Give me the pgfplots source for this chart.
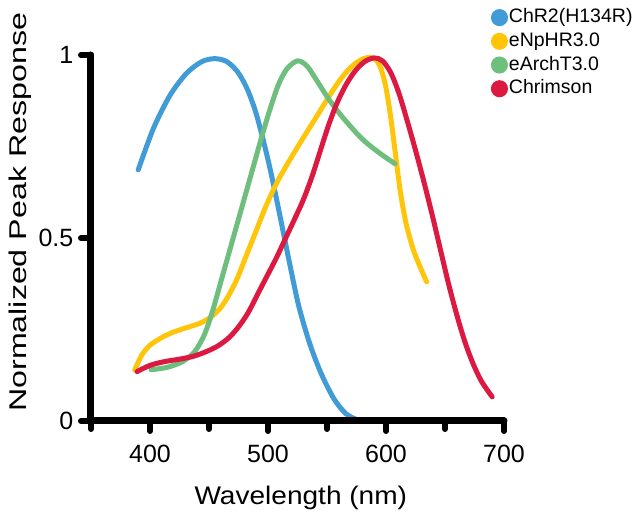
\documentclass[border=0pt]{standalone}
\usepackage{pgfplots}
\pgfplotsset{compat=1.18}
\usepackage{fontspec}
\setmainfont{Liberation Sans}
\newfontfamily\ylabfont[FakeStretch=1.33]{Liberation Sans}
\newfontfamily\xlabfont[FakeStretch=1.1]{Liberation Sans}
\definecolor{cblue}{RGB}{65,155,215}
\definecolor{cyellow}{RGB}{255,197,10}
\definecolor{cgreen}{RGB}{110,190,125}
\definecolor{cred}{RGB}{220,25,65}
\begin{document}
\begin{tikzpicture}
\path[use as bounding box] (-91pt,-97pt) rectangle (547pt,421pt);
\begin{axis}[
  at={(0pt,0pt)}, anchor=south west,
  scale only axis, width=413pt, height=366pt,
  xmin=350, xmax=700, ymin=0, ymax=1,
  clip=false, axis on top,
  axis x line=bottom, axis y line=left,
  axis line style={line width=7pt, line cap=round, -},
  xtick={400,500,600,700}, minor xtick={350,450,550,650},
  ytick={0,0.5,1}, yticklabels={0,0.5,1},
  tick align=outside,
  major tick length=10pt, minor tick length=8pt,
  tick style={black, line width=6pt, line cap=round},
  minor tick style={black, line width=6pt, line cap=round},
  /pgf/number format/assume math mode=true,
  xticklabel style={inner sep=0pt, anchor=north, yshift=-14pt, font=\fontsize{25}{29}\selectfont},
  yticklabel style={inner sep=0pt, anchor=east, xshift=-7.5pt, font=\fontsize{25}{29}\selectfont},
  every axis x label/.style={at={(axis description cs:0.508,-0.2295)}, anchor=base},
  every axis y label/.style={at={(axis description cs:-0.155,0.57)}, anchor=base, rotate=90},
  xlabel={\xlabfont\fontsize{25.5}{30}\selectfont Wavelength (nm)},
  ylabel={\ylabfont\fontsize{24.2}{28}\selectfont Normalized Peak Response},
  legend image code/.code={\fill (0pt,0pt) circle (6pt);},
  legend cell align=left,
  legend style={draw=none, fill=none, at={(rel axis cs:0.968,1.13)}, anchor=north west,
    font=\fontsize{19.5}{22}\selectfont, row sep=3.7pt, column sep=0pt, inner sep=0pt,
    nodes={text height=14pt, text depth=4pt, inner sep=1pt}},
  every axis plot/.append style={line width=5pt, smooth, line cap=round},
]
\addplot[cblue] coordinates {(390,0.686)(403,0.80)(417,0.89)(431,0.95)(444,0.982)(455,0.99)(465,0.982)(474,0.955)(482,0.91)(489,0.85)(495,0.78)(501,0.70)(507,0.61)(513,0.515)(519,0.42)(526,0.315)(535,0.215)(545,0.13)(556,0.06)(566,0.02)(575,0.004)};
\addlegendentry{ChR2(H134R)}
\addplot[cyellow] coordinates {(387,0.139)(393,0.18)(400,0.207)(410,0.228)(420,0.243)(432,0.256)(443,0.268)(452,0.285)(460,0.31)(467,0.345)(474,0.39)(482,0.455)(490,0.52)(498,0.585)(507,0.648)(516,0.70)(525,0.748)(534,0.795)(542,0.836)(550,0.878)(558,0.918)(566,0.952)(574,0.977)(581,0.99)(587,0.993)(592,0.985)(596,0.96)(600,0.91)(604,0.83)(608,0.73)(612,0.63)(617,0.54)(624,0.46)(634.5,0.38)};
\addlegendentry{eNpHR3.0}
\addplot[cgreen] coordinates {(401,0.14)(415,0.147)(428,0.163)(438,0.19)(446,0.235)(453,0.30)(460,0.38)(467,0.46)(474,0.54)(481,0.62)(488,0.70)(495,0.78)(502,0.855)(509,0.92)(516,0.962)(525,0.984)(533,0.97)(541,0.932)(552,0.877)(564,0.827)(580,0.77)(595,0.731)(607.6,0.703)};
\addlegendentry{eArchT3.0}
\addplot[cred] coordinates {(389,0.135)(400,0.152)(412,0.162)(425,0.169)(437,0.177)(448,0.19)(458,0.206)(467,0.228)(475,0.257)(483,0.295)(491,0.345)(499,0.395)(507,0.445)(515,0.50)(523,0.555)(530,0.605)(537,0.665)(544,0.735)(551,0.805)(558,0.865)(566,0.918)(574,0.957)(582,0.982)(590,0.992)(597,0.984)(604,0.952)(611,0.895)(618,0.82)(625,0.74)(632,0.655)(639,0.565)(646,0.47)(653,0.375)(660,0.29)(667,0.215)(674,0.155)(681,0.108)(690,0.066)};
\addlegendentry{Chrimson}
\end{axis}
\end{tikzpicture}
\end{document}
